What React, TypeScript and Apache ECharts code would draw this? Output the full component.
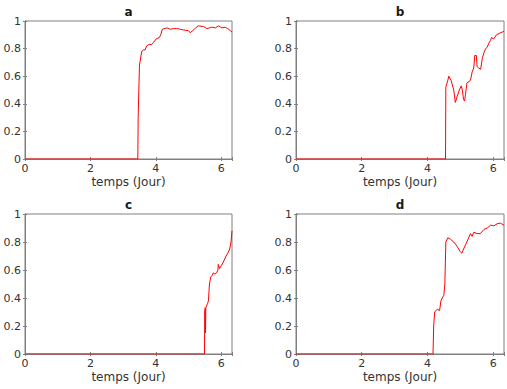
import React, { useEffect, useRef } from "react";
import * as echarts from "echarts";

// Time (days) and fraction series for each panel
const timeA = [0, 3.45, 3.46, 3.5, 3.57, 3.62, 3.67, 3.72, 3.8, 3.88, 3.93, 4.01, 4.11, 4.15, 4.2, 4.34, 4.44, 4.55, 4.64, 4.75, 4.85, 5.0, 5.05, 5.13, 5.22, 5.3, 5.46, 5.56, 5.64, 5.71, 5.82, 5.92, 6.02, 6.12, 6.2, 6.28, 6.33];
const valA = [0, 0, 0.3, 0.68, 0.78, 0.79, 0.79, 0.82, 0.83, 0.83, 0.845, 0.87, 0.88, 0.9, 0.94, 0.95, 0.94, 0.945, 0.945, 0.94, 0.935, 0.93, 0.915, 0.93, 0.95, 0.965, 0.96, 0.945, 0.95, 0.955, 0.95, 0.965, 0.95, 0.955, 0.945, 0.93, 0.92];

const timeB = [0, 4.55, 4.56, 4.62, 4.65, 4.72, 4.8, 4.85, 4.9, 4.97, 5.03, 5.06, 5.1, 5.13, 5.16, 5.2, 5.31, 5.36, 5.41, 5.44, 5.49, 5.51, 5.56, 5.62, 5.67, 5.72, 5.77, 5.82, 5.87, 5.92, 5.95, 6.02, 6.1, 6.18, 6.28, 6.33];
const valB = [0, 0, 0.52, 0.57, 0.6, 0.57, 0.5, 0.41, 0.45, 0.5, 0.53, 0.5, 0.43, 0.42, 0.47, 0.55, 0.57, 0.63, 0.66, 0.75, 0.75, 0.67, 0.66, 0.65, 0.73, 0.77, 0.8, 0.81, 0.84, 0.86, 0.88, 0.87, 0.9, 0.91, 0.92, 0.925];

const timeC = [0, 5.49, 5.495, 5.51, 5.52, 5.53, 5.58, 5.61, 5.64, 5.68, 5.72, 5.76, 5.81, 5.86, 5.9, 5.91, 5.95, 6.0, 6.05, 6.15, 6.2, 6.26, 6.3, 6.33];
const valC = [0, 0, 0.3, 0.33, 0.15, 0.33, 0.36, 0.38, 0.5, 0.55, 0.56, 0.58, 0.57, 0.58, 0.6, 0.64, 0.61, 0.63, 0.65, 0.7, 0.72, 0.75, 0.8, 0.88];

const timeD = [0, 4.17, 4.19, 4.22, 4.3, 4.37, 4.41, 4.45, 4.5, 4.53, 4.56, 4.62, 4.7, 4.8, 4.9, 5.0, 5.05, 5.1, 5.2, 5.31, 5.36, 5.41, 5.51, 5.61, 5.72, 5.82, 5.92, 6.02, 6.12, 6.22, 6.33];
const valD = [0, 0, 0.2, 0.3, 0.32, 0.31, 0.38, 0.4, 0.42, 0.5, 0.8, 0.83, 0.82, 0.8, 0.77, 0.73, 0.72, 0.75, 0.8, 0.86, 0.84, 0.87, 0.86, 0.86, 0.89, 0.9, 0.92, 0.915, 0.93, 0.935, 0.92];

const panelTitles = ["a", "b", "c", "d"];
const xTicks = [0, 2, 4, 6];
const yTicks = [0, 0.2, 0.4, 0.6, 0.8, 1];
const xName = "temps (Jour)";

const panels = [
  { t: timeA, v: valA, left: 25, top: 21, width: 207, height: 138 },
  { t: timeB, v: valB, left: 296, top: 21, width: 208, height: 138 },
  { t: timeC, v: valC, left: 25, top: 214, width: 207, height: 140 },
  { t: timeD, v: valD, left: 296, top: 214, width: 208, height: 140 },
];

const AXIS = "#808080";
const TEXT = "#333333";
const FONT = "DejaVu Sans";

export default function App() {
  const ref = useRef<HTMLDivElement>(null);

  useEffect(() => {
    if (!ref.current) return;
    const chart = echarts.init(ref.current, undefined, { renderer: "svg" });

    const grid: any[] = [];
    const xAxis: any[] = [];
    const yAxis: any[] = [];
    const series: any[] = [];
    const graphic: any[] = [];

    panels.forEach((p, i) => {
      grid.push({
        left: p.left,
        top: p.top,
        width: p.width,
        height: p.height,
        show: true,
        borderColor: AXIS,
        borderWidth: 1,
        backgroundColor: "#fff",
      });
      const xBase = {
        type: "value",
        gridIndex: i,
        min: 0,
        max: 6.33,
        interval: 2,
        splitLine: { show: false },
        axisLine: { show: true, lineStyle: { color: AXIS, width: 1 } },
        axisTick: { show: true, inside: true, length: 2, lineStyle: { color: AXIS } },
      };
      xAxis.push({
        ...xBase,
        position: "bottom",
        axisLabel: {
          show: true,
          color: TEXT,
          fontFamily: FONT,
          fontSize: 11,
          margin: 4,
          customValues: xTicks,
          formatter: (v: number) => String(v),
        },
        name: xName,
        nameLocation: "middle",
        nameGap: 17,
        nameTextStyle: { color: TEXT, fontFamily: FONT, fontSize: 12 },
      });
      xAxis.push({ ...xBase, position: "top", axisLabel: { show: false } });

      const yBase = {
        type: "value",
        gridIndex: i,
        min: 0,
        max: 1,
        interval: 0.2,
        splitLine: { show: false },
        axisLine: { show: true, lineStyle: { color: AXIS, width: 1 } },
        axisTick: { show: true, inside: true, length: 2, lineStyle: { color: AXIS } },
      };
      yAxis.push({
        ...yBase,
        position: "left",
        axisLabel: {
          show: true,
          color: TEXT,
          fontFamily: FONT,
          fontSize: 11,
          margin: 4,
          formatter: (v: number) => (yTicks.includes(Math.round(v * 10) / 10) ? String(Math.round(v * 10) / 10) : ""),
        },
      });
      yAxis.push({ ...yBase, position: "right", axisLabel: { show: false } });

      series.push({
        type: "line",
        xAxisIndex: i * 2,
        yAxisIndex: i * 2,
        data: p.t.map((t, k) => [t, p.v[k]]),
        showSymbol: false,
        symbol: "none",
        lineStyle: { color: "#ff0000", width: 1 },
        z: 3,
      });

      graphic.push({
        type: "text",
        x: p.left + p.width / 2,
        y: p.top - 9,
        style: {
          text: panelTitles[i],
          fill: "#1a1a1a",
          font: `bold 12px ${FONT}`,
          textAlign: "center",
          textVerticalAlign: "middle",
        },
      });
    });

    chart.setOption({
      animation: false,
      backgroundColor: "#ffffff",
      grid,
      xAxis,
      yAxis,
      series,
      graphic,
    });

    return () => chart.dispose();
  }, []);

  return (
    <div
      ref={ref}
      style={{ position: "fixed", left: 0, top: 0, width: 507, height: 389 }}
    />
  );
}
